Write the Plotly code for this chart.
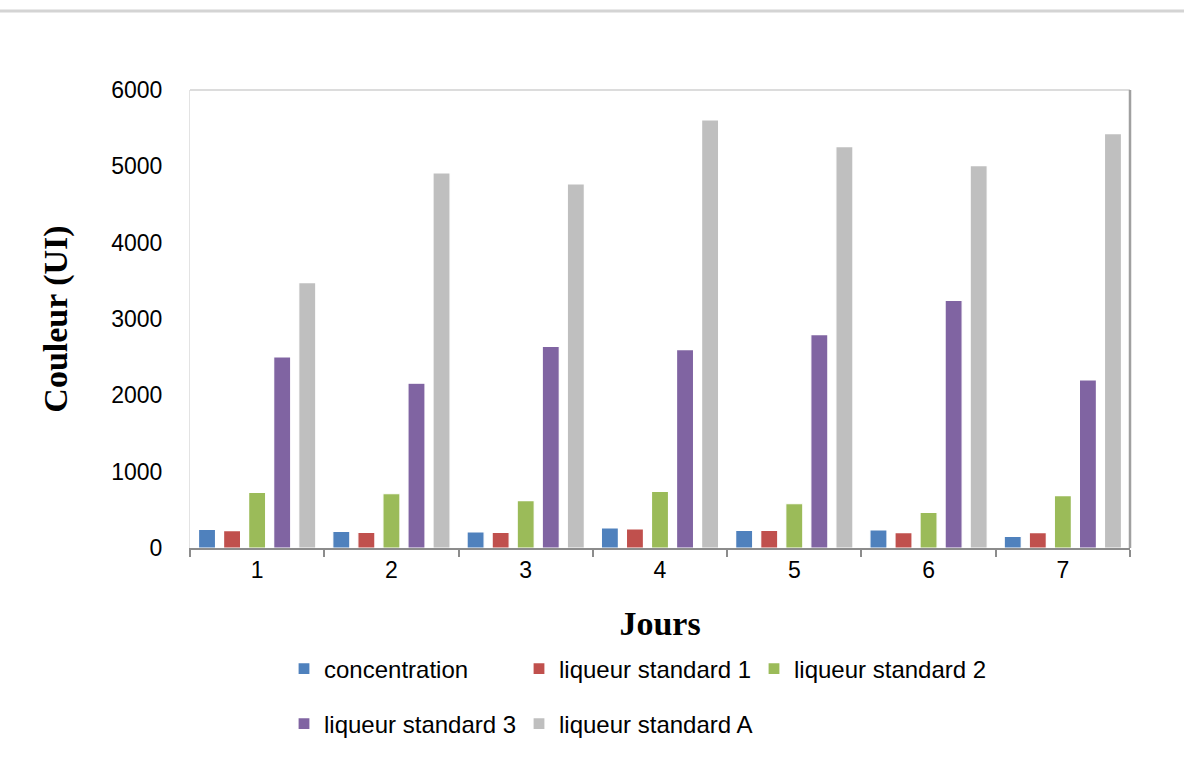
import plotly.graph_objects as go

jours = ["1", "2", "3", "4", "5", "6", "7"]
concentration = [245, 218, 210, 262, 232, 236, 153]
liqueur_std_1 = [227, 205, 205, 249, 232, 201, 201]
liqueur_std_2 = [730, 711, 620, 743, 580, 468, 685]
liqueur_std_3 = [2502, 2158, 2642, 2598, 2795, 3245, 2201]
liqueur_std_A = [3476, 4913, 4769, 5607, 5258, 5009, 5428]

series = [
    ("concentration", concentration, "#4F81BD", "legend"),
    ("liqueur standard 1", liqueur_std_1, "#C0504D", "legend"),
    ("liqueur standard 2", liqueur_std_2, "#9BBB59", "legend"),
    ("liqueur standard 3", liqueur_std_3, "#8064A2", "legend2"),
    ("liqueur standard A", liqueur_std_A, "#BFBFBF", "legend2"),
]

fig = go.Figure()
for name, vals, color, leg in series:
    fig.add_trace(go.Bar(
        x=jours, y=vals, name=name,
        marker=dict(color=color, line=dict(color="white", width=1.2)),
        legend=leg,
    ))

W, H = 1184, 760
ml, mr, mt, mb = 190, 54, 90, 212
pw, ph = W - ml - mr, H - mt - mb

def px_to_paper_x(px):
    return (px - ml) / pw

def px_to_paper_y(py):
    return (H - mb - py) / ph

sans = "Liberation Sans, Arial, sans-serif"
serif = "Liberation Serif, Times New Roman, serif"
legend_font = dict(family=sans, size=24, color="#000000")

legend_common = dict(
    orientation="h",
    xanchor="left",
    yanchor="middle",
    entrywidth=190, entrywidthmode="pixels",
    itemwidth=30,
    font=legend_font,
    bgcolor="rgba(0,0,0,0)",
    itemclick=False, itemdoubleclick=False,
)

fig.update_layout(
    width=W, height=H,
    margin=dict(l=ml, r=mr, t=mt, b=mb),
    paper_bgcolor="white",
    plot_bgcolor="white",
    barmode="group",
    bargap=0.067,
    bargroupgap=0.32,
    showlegend=True,
    legend=dict(legend_common, x=px_to_paper_x(284), y=px_to_paper_y(669)),
    legend2=dict(legend_common, x=px_to_paper_x(284), y=px_to_paper_y(724)),
    xaxis=dict(
        type="category",
        showline=True, linecolor="#8c8c8c", linewidth=2,
        ticks="outside", tickson="boundaries", ticklen=7,
        tickcolor="#8c8c8c", tickwidth=2,
        tickfont=dict(family=sans, size=23, color="#000000"),
        showgrid=False,
        title=dict(text="<b>Jours</b>",
                   font=dict(family=serif, size=34, color="#000000"),
                   standoff=30),
    ),
    yaxis=dict(
        range=[0, 6000],
        tickvals=[0, 1000, 2000, 3000, 4000, 5000, 6000],
        showline=True, linecolor="#e3e3e3", linewidth=1,
        ticks="", showgrid=False, zeroline=False,
        tickfont=dict(family=sans, size=23, color="#000000"),
        ticklabelstandoff=22,
        title=dict(text="<b>Couleur (UI)</b>",
                   font=dict(family=serif, size=34, color="#000000"),
                   standoff=33),
    ),
    shapes=[
        # soft frame top and right edges of the plotting area
        dict(type="line", xref="paper", yref="paper", x0=0, x1=1, y0=1, y1=1,
             line=dict(color="#dcdcdc", width=2)),
        dict(type="line", xref="paper", yref="paper", x0=1, x1=1, y0=0, y1=1,
             line=dict(color="#a0a0a0", width=2.5)),
        # thin rule across the top of the page
        dict(type="line", xref="paper", yref="paper",
             x0=px_to_paper_x(0), x1=px_to_paper_x(W),
             y0=px_to_paper_y(11), y1=px_to_paper_y(11),
             line=dict(color="#d4d4d4", width=3)),
    ],
)

fig.write_html("out.html")
